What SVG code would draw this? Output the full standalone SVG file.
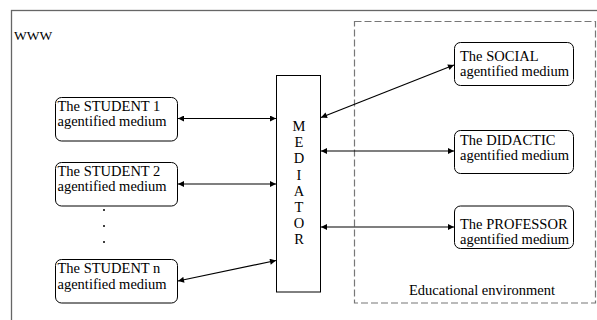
<svg xmlns="http://www.w3.org/2000/svg" width="597" height="320" viewBox="0 0 597 320">
<defs>
<marker id="ah" viewBox="0 0 10 10" refX="10" refY="5" markerWidth="7" markerHeight="6" markerUnits="userSpaceOnUse" orient="auto-start-reverse">
<path d="M0,0 L10,5 L0,10 Z" fill="#000"/>
</marker>
</defs>
<style>
text{font-family:"Liberation Serif","Times New Roman",serif;font-size:14.5px;fill:#000}
.node rect{fill:#fff;stroke:#000;stroke-width:1}
.conn line{stroke:#000;stroke-width:1.2;marker-start:url(#ah);marker-end:url(#ah)}
.mid text{text-anchor:middle}
</style>
<rect x="0" y="0" width="597" height="320" fill="#fff"/>
<g id="www">
<rect x="11.5" y="10.5" width="600" height="330" fill="none" stroke="#666" stroke-width="1.3"/>
<text x="14" y="40" style="font-size:13.5px">WWW</text>
</g>
<g id="educational-environment">
<rect x="354.5" y="21.5" width="241" height="281.5" fill="none" stroke="#777" stroke-width="1.2" stroke-dasharray="7,3"/>
<text x="482" y="295" text-anchor="middle">Educational environment</text>
</g>
<g id="mediator" class="node mid">
<rect x="276.5" y="75.5" width="44" height="216.5"/>
<text x="299" y="131">M</text>
<text x="299" y="147.2">E</text>
<text x="299" y="163.4">D</text>
<text x="299" y="179.6">I</text>
<text x="299" y="195.8">A</text>
<text x="299" y="212">T</text>
<text x="299" y="228.2">O</text>
<text x="299" y="244.4">R</text>
</g>
<g id="student1" class="node">
<rect x="55.5" y="97.5" width="122" height="43.5" rx="6"/>
<text x="57.5" y="110.5">The STUDENT 1</text>
<text x="57.5" y="126">agentified medium</text>
</g>
<g id="student2" class="node">
<rect x="55.5" y="162.5" width="122" height="43.5" rx="6"/>
<text x="57.5" y="175.5">The STUDENT 2</text>
<text x="57.5" y="191">agentified medium</text>
</g>
<g id="dots">
<circle cx="104" cy="210" r="1" fill="#000"/>
<circle cx="104" cy="226" r="1" fill="#000"/>
<circle cx="104" cy="242" r="1" fill="#000"/>
</g>
<g id="studentn" class="node">
<rect x="55.5" y="259.5" width="122" height="43.5" rx="6"/>
<text x="57.5" y="273">The STUDENT n</text>
<text x="57.5" y="288.5">agentified medium</text>
</g>
<g id="social" class="node">
<rect x="454.5" y="42.5" width="119" height="43" rx="6"/>
<text x="460" y="61">The SOCIAL</text>
<text x="460" y="76">agentified medium</text>
</g>
<g id="didactic" class="node">
<rect x="454.5" y="130.5" width="119" height="43" rx="6"/>
<text x="460" y="145">The DIDACTIC</text>
<text x="460" y="160">agentified medium</text>
</g>
<g id="professor" class="node">
<rect x="454.5" y="206" width="119" height="42.5" rx="6"/>
<text x="460" y="229">The PROFESSOR</text>
<text x="460" y="243.5">agentified medium</text>
</g>
<g id="connectors" class="conn">
<line x1="178" y1="118.5" x2="276" y2="118.5"/>
<line x1="178" y1="184" x2="276" y2="184"/>
<line x1="178" y1="281" x2="276" y2="260.5"/>
<line x1="321" y1="117.5" x2="454" y2="65"/>
<line x1="321" y1="151" x2="454" y2="151"/>
<line x1="321" y1="227" x2="454" y2="227"/>
</g>
</svg>
